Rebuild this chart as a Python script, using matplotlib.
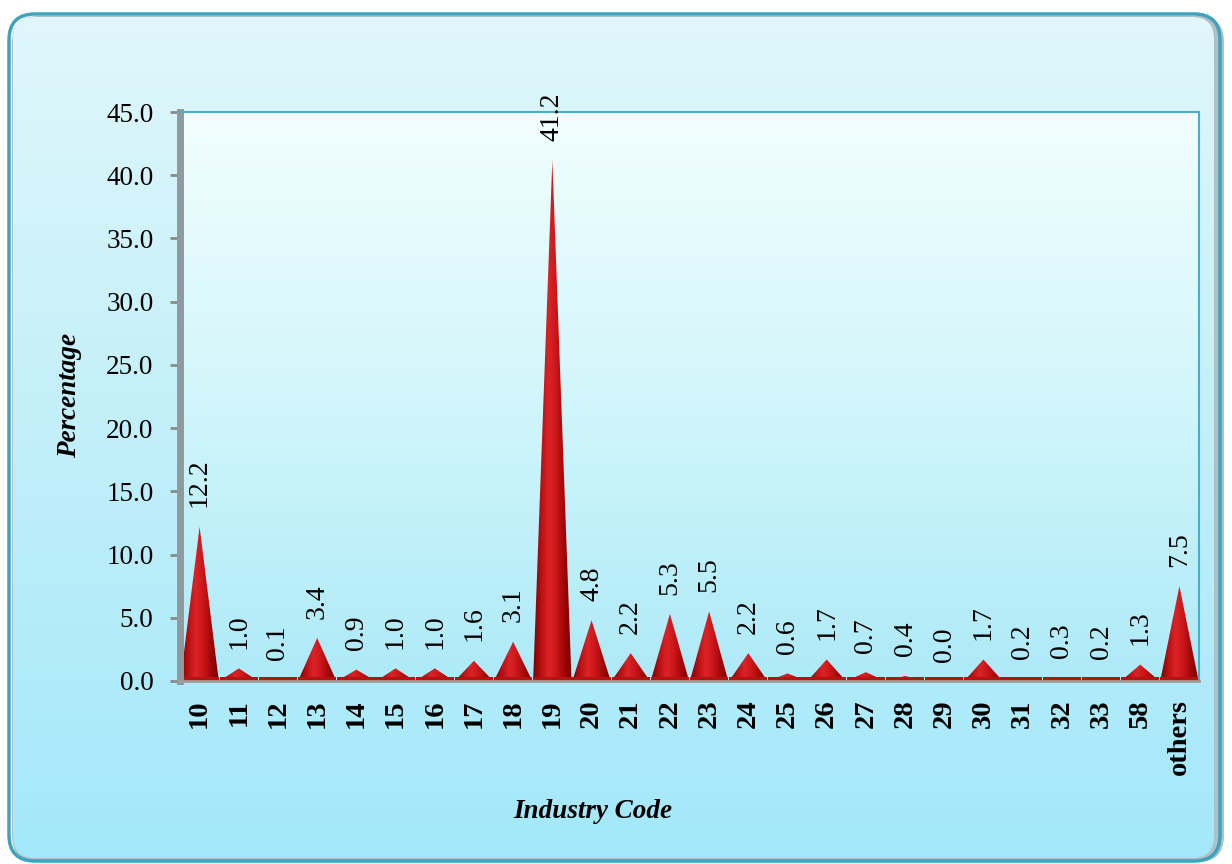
import numpy as np
import matplotlib.pyplot as plt
from matplotlib.patches import FancyBboxPatch, Polygon, Rectangle
from matplotlib.colors import LinearSegmentedColormap

plt.rcParams["font.family"] = ["Liberation Serif", "DejaVu Serif"]

codes = ["10", "11", "12", "13", "14", "15", "16", "17", "18", "19", "20", "21", "22",
         "23", "24", "25", "26", "27", "28", "29", "30", "31", "32", "33", "58", "others"]
share = [12.2, 1.0, 0.1, 3.4, 0.9, 1.0, 1.0, 1.6, 3.1, 41.2, 4.8, 2.2, 5.3,
         5.5, 2.2, 0.6, 1.7, 0.7, 0.4, 0.0, 1.7, 0.2, 0.3, 0.2, 1.3, 7.5]
yticks = [0, 5, 10, 15, 20, 25, 30, 35, 40, 45]

W, H = 1232, 864
fig = plt.figure(figsize=(W / 100, H / 100), dpi=100)

# rounded chart frame with a vertical blue gradient
bg = fig.add_axes([0, 0, 1, 1], zorder=0)
bg.set_xlim(0, W)
bg.set_ylim(0, H)
bg.axis("off")
frame_cmap = LinearSegmentedColormap.from_list("frame", ["#a3e8fb", "#c2eff9", "#e0f7fb"])
shadow = FancyBboxPatch((12, 2), W - 20, H - 18, boxstyle="round,pad=0,rounding_size=26",
                        fc="#6f8f98", ec="none", alpha=0.55, zorder=0)
bg.add_patch(shadow)
grad = np.linspace(0, 1, 256).reshape(-1, 1)
im = bg.imshow(grad, extent=(9, W - 12, 3, H - 14), origin="lower", cmap=frame_cmap,
               aspect="auto", zorder=1)
inner = FancyBboxPatch((13, 6), W - 31, H - 23, boxstyle="round,pad=0,rounding_size=22",
                       fc="none", ec="none", transform=bg.transData)
bg.add_patch(inner)
im.set_clip_path(inner)
frame = FancyBboxPatch((9, 3), W - 21, H - 17, boxstyle="round,pad=0,rounding_size=26",
                       fc="none", ec="#3fa3bd", lw=2.5, zorder=2)
bg.add_patch(frame)

# plot area
left, right, top, bottom = 180, 1199, 112, 681
ax = fig.add_axes([left / W, 1 - bottom / H, (right - left) / W, (bottom - top) / H], zorder=1)
n = len(codes)
ax.set_xlim(-0.5, n - 0.5)
ax.set_ylim(0, 45)

plot_cmap = LinearSegmentedColormap.from_list("plot", ["#aeeaf8", "#d2f6fb", "#f2fefe"])
ax.imshow(grad, extent=(-0.5, n - 0.5, 0, 45), origin="lower", cmap=plot_cmap,
          aspect="auto", zorder=0)

# cones: horizontal red shading clipped to a triangle per category
cone_cmap = LinearSegmentedColormap.from_list(
    "cone", ["#7a0000", "#b80f12", "#dc2326", "#c8161a", "#a00808", "#780000"])
hgrad = np.linspace(0, 1, 128).reshape(1, -1)
half = 0.49
for i, v in enumerate(share):
    tri = Polygon([(i - half, 0), (i, v), (i + half, 0)], closed=True,
                  fc="none", ec="none")
    ax.add_patch(tri)
    cone = ax.imshow(hgrad, extent=(i - half, i + half, 0, max(v, 0.05)),
                     cmap=cone_cmap, aspect="auto", zorder=2)
    cone.set_clip_path(tri)
    base = Rectangle((i - half, 0), 2 * half, 0.28, fc="#b51212", ec="none", zorder=2)
    ax.add_patch(base)
    ax.annotate(f"{v:.1f}", (i, v), xytext=(0, 14), textcoords="offset points",
                rotation=90, ha="center", va="bottom", fontsize=20,
                annotation_clip=False, zorder=4)

ax.set_xticks(range(n))
ax.set_xticklabels(codes, rotation=90, fontsize=20.5, fontweight="bold", va="top")
ax.set_yticks(yticks)
ax.set_yticklabels([f"{t:.1f}" for t in yticks], fontsize=19.5)
ax.tick_params(axis="x", length=0, pad=13)
ax.tick_params(axis="y", length=7, width=2, color="#8a8a8a", pad=12)

for side in ("top", "right"):
    ax.spines[side].set_color("#4aaec4")
    ax.spines[side].set_linewidth(1.5)
ax.spines["left"].set_color("#8f9a9e")
ax.spines["left"].set_linewidth(5)
ax.spines["bottom"].set_color("#a09a98")
ax.spines["bottom"].set_linewidth(2)

fig.text(70 / W, 1 - 395 / H, "Percentage", rotation=90, ha="center", va="center",
         fontsize=19.5, fontweight="bold", fontstyle="italic")
fig.text(593 / W, 1 - 812 / H, "Industry Code", ha="center", va="center",
         fontsize=19.5, fontweight="bold", fontstyle="italic")

fig.savefig("out.png", dpi=100)
